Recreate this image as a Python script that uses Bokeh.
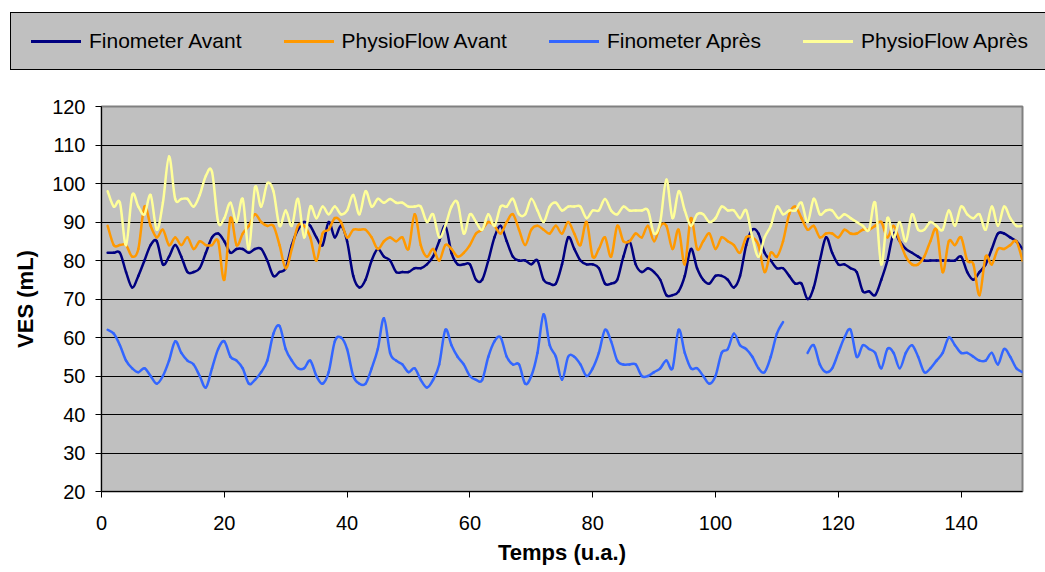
import math
from bokeh.plotting import figure
from bokeh.layouts import column
from bokeh.models import Div, FixedTicker, Range1d, ColumnDataSource
from bokeh.embed import file_html
from bokeh.resources import INLINE

nan = float("nan")

temps = list(range(1, 151))

finometer_avant = [
    82, 82, 82, 77, 73, 76, 80, 84, 85, 79,
    81, 84, 81, 77, 77, 78, 82, 86, 87, 85,
    82, 83, 83, 82, 83, 83, 80, 76, 77, 78,
    84, 88, 90, 89, 86, 84, 90, 86, 89, 85,
    76, 73, 75, 80, 83, 81, 80, 77, 77, 77,
    78, 78, 79, 81, 85, 89, 82, 79, 79, 79,
    75, 75, 80, 86, 89, 85, 81, 80, 80, 79,
    80, 75, 74, 74, 79, 86, 83, 80, 79, 79,
    78, 74, 74, 75, 81, 85, 79, 77, 78, 77,
    75, 71, 71, 72, 76, 83, 78, 75, 74, 76,
    76, 75, 73, 76, 84, 88, 87, 82, 80, 78,
    78, 76, 74, 74, 70, 73, 80, 86, 82, 79,
    79, 78, 77, 72, 72, 71, 75, 80, 87, 85,
    83, 82, 81, 80, 80, 80, 80, 80, 80, 81,
    77, 75, 77, 79, 83, 87, 87, 86, 85, 83,
]

physioflow_avant = [
    89, 84, 84, 84, 81, 83, 94, 89, 86, 88,
    84, 86, 84, 86, 83, 85, 84, 84, 85, 75,
    91, 84, 87, 89, 92, 90, 89, 89, 84, 78,
    83, 89, 89, 86, 80, 87, 88, 91, 90, 86,
    88, 88, 88, 86, 83, 85, 86, 85, 86, 83,
    92, 84, 81, 83, 80, 84, 83, 81, 82, 84,
    87, 88, 90, 89, 87, 90, 92, 88, 84, 88,
    89, 88, 87, 89, 87, 90, 87, 84, 90, 81,
    83, 86, 81, 89, 85, 85, 87, 86, 89, 85,
    89, 89, 83, 88, 79, 91, 83, 85, 87, 83,
    86, 85, 84, 82, 86, 86, 84, 77, 82, 81,
    85, 92, 94, 91, 88, 89, 86, 87, 87, 86,
    88, 87, 87, 88, 88, 89, 90, 86, 89, 85,
    81, 79, 79, 81, 85, 88, 77, 85, 84, 86,
    80, 79, 71, 81, 79, 83, 83, 84, 85, 80,
]

finometer_apres = [
    62, 61, 58, 54, 52, 51, 52, 50, 48, 50,
    54, 59, 56, 54, 53, 50, 47, 52, 57, 59,
    55, 54, 52, 48, 49, 51, 54, 61, 63, 57,
    54, 52, 52, 54, 50, 48, 51, 59, 60, 57,
    50, 48, 48, 52, 57, 65, 56, 54, 53, 51,
    52, 49, 47, 49, 53, 62, 58, 55, 53, 50,
    49, 49, 55, 59, 60, 55, 53, 53, 48, 50,
    56, 66, 58, 55, 49, 55, 55, 53, 50, 52,
    56, 62, 59, 54, 53, 53, 53, 50, 50, 51,
    52, 54, 52, 62, 56, 52, 52, 50, 48, 50,
    56, 57, 61, 58, 57, 55, 52, 51, 55, 61,
    64, nan, nan, nan, 56, 58, 53, 51, 52, 56,
    60, 62, 55, 58, 57, 56, 52, 57, 56, 52,
    56, 58, 55, 51, 52, 54, 56, 60, 58, 56,
    56, 55, 54, 54, 56, 53, 57, 55, 52, 51,
]

physioflow_apres = [
    98, 94, 95, 84, 97, 94, 92, 97, 88, 95,
    107, 96, 96, 96, 94, 97, 102, 103, 90, 91,
    95, 90, 96, 83, 99, 94, 100, 98, 89, 93,
    89, 96, 86, 94, 91, 94, 92, 94, 92, 93,
    97, 92, 98, 94, 96, 95, 96, 95, 95, 94,
    94, 94, 90, 92, 86, 89, 94, 95, 87, 92,
    90, 88, 92, 89, 94, 94, 96, 92, 92, 96,
    93, 90, 94, 95, 93, 94, 94, 94, 91, 93,
    93, 96, 93, 92, 94, 93, 93, 93, 93, 87,
    90, 101, 91, 98, 93, 89, 92, 92, 90, 91,
    94, 93, 93, 91, 93, 86, 81, 86, 89, 94,
    92, 93, 93, 95, 90, 96, 92, 93, 93, 91,
    92, 91, 90, 89, 88, 95, 79, 91, 86, 90,
    85, 92, 88, 88, 90, 89, 88, 93, 89, 94,
    92, 91, 92, 88, 94, 89, 94, 91, 89, 89,
]

series_names = ["Finometer Avant", "PhysioFlow Avant", "Finometer Après", "PhysioFlow Après"]
series_values = [finometer_avant, physioflow_avant, finometer_apres, physioflow_apres]
series_colors = ["#000080", "#FF9900", "#3366FF", "#FFFF99"]

x_ticks = [0, 20, 40, 60, 80, 100, 120, 140]
y_ticks = [20, 30, 40, 50, 60, 70, 80, 90, 100, 110, 120]

FONT = "Liberation Sans"


def smooth_segments(xs, ys):
    """Excel-style smoothed line: one cubic Bezier per pair of data points,
    the control points following the neighbouring data points."""
    n = len(xs)
    ok = [not (isinstance(v, float) and math.isnan(v)) for v in ys]
    seg = {k: [] for k in ("x0", "y0", "x1", "y1", "cx0", "cy0", "cx1", "cy1")}
    for i in range(n - 1):
        if not (ok[i] and ok[i + 1]):
            continue
        a = i - 1 if i > 0 and ok[i - 1] else i
        b = i + 2 if i + 2 < n and ok[i + 2] else i + 1
        seg["x0"].append(xs[i]); seg["y0"].append(ys[i])
        seg["x1"].append(xs[i + 1]); seg["y1"].append(ys[i + 1])
        seg["cx0"].append(xs[i] + (xs[i + 1] - xs[a]) / 6.0)
        seg["cy0"].append(ys[i] + (ys[i + 1] - ys[a]) / 6.0)
        seg["cx1"].append(xs[i + 1] - (xs[b] - xs[i]) / 6.0)
        seg["cy1"].append(ys[i + 1] - (ys[b] - ys[i]) / 6.0)
    return ColumnDataSource(seg)


# ---- legend strip (HTML, real text) ----
item_html = "".join(
    '<div style="display:flex;align-items:center;margin-right:42px;white-space:nowrap;">'
    f'<span style="display:inline-block;width:50px;height:3px;background:{col};margin-right:8px;"></span>'
    f'<span>{name}</span></div>'
    for name, col in zip(series_names, series_colors)
)
legend_html = (
    '<div style="position:relative;width:1045px;height:72px;overflow:hidden;">'
    '<div style="position:absolute;left:10px;top:12px;width:1050px;height:56px;'
    'background:#C0C0C0;border:1px solid #000;box-sizing:content-box;'
    f"display:flex;align-items:center;padding-left:20px;font-family:'{FONT}';"
    'font-size:21px;color:#000;line-height:24px;">'
    + item_html +
    '</div></div>'
)
legend_div = Div(text=legend_html, width=1045, height=72,
                 styles={"margin": "0", "padding": "0"})

# ---- main chart ----
p = figure(
    width=1045, height=500,
    output_backend="svg", toolbar_location=None,
    x_range=Range1d(0, 150), y_range=Range1d(20, 120),
    min_border_left=101, min_border_right=23,
    min_border_top=34, min_border_bottom=81,
    background_fill_color="#C0C0C0",
    border_fill_color="white",
)

p.outline_line_color = "#808080"
p.outline_line_width = 2

p.xgrid.grid_line_color = None
p.ygrid.grid_line_color = "black"
p.ygrid.grid_line_width = 1
p.ygrid.ticker = FixedTicker(ticks=y_ticks)

p.xaxis.ticker = FixedTicker(ticks=x_ticks)
p.yaxis.ticker = FixedTicker(ticks=y_ticks)

for ax in (p.xaxis, p.yaxis):
    ax.axis_line_color = "black"
    ax.axis_line_width = 1
    ax.major_tick_line_color = "black"
    ax.major_tick_out = 6
    ax.major_tick_in = 0
    ax.minor_tick_line_color = None
    ax.major_label_text_font = FONT
    ax.major_label_text_font_size = "20px"
    ax.major_label_text_color = "black"
    ax.axis_label_text_font = FONT
    ax.axis_label_text_font_size = "22px"
    ax.axis_label_text_font_style = "bold"
    ax.axis_label_text_color = "black"

p.xaxis.axis_label = "Temps (u.a.)"
p.yaxis.axis_label = "VES (mL)"
p.xaxis.major_label_standoff = 18
p.yaxis.major_label_standoff = 10
p.xaxis.axis_label_standoff = 7
p.yaxis.axis_label_standoff = 11

for vals, col in zip(series_values, series_colors):
    src = smooth_segments(temps, vals)
    p.bezier(x0="x0", y0="y0", x1="x1", y1="y1",
             cx0="cx0", cy0="cy0", cx1="cx1", cy1="cy1",
             source=src, line_color=col, line_width=2.5, line_cap="round")

layout = column(legend_div, p, spacing=0)

open("out.html", "w").write(file_html(layout, INLINE))
